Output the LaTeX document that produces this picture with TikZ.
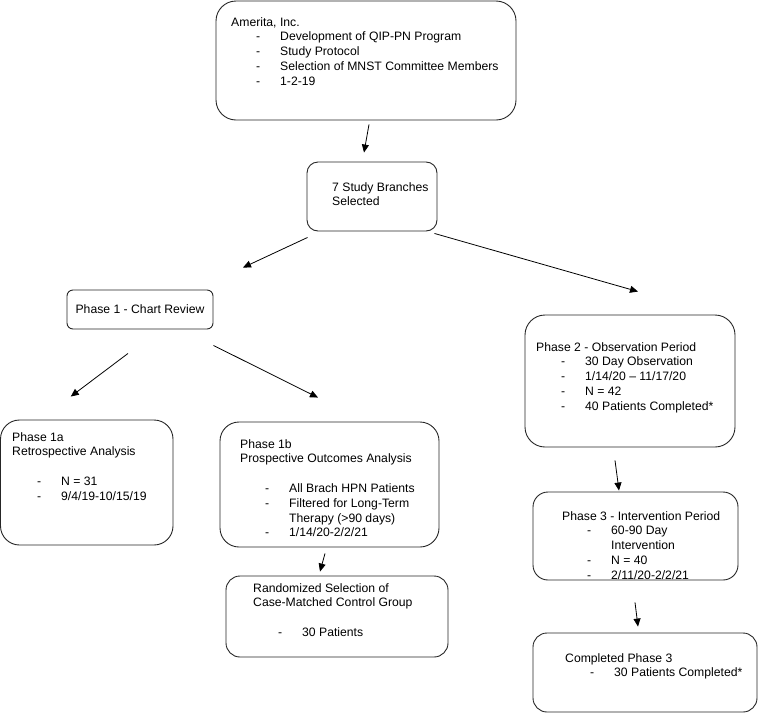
\documentclass[tikz,border=0pt]{standalone}
\usepackage{fontspec}
\setmainfont{Liberation Sans}
\usetikzlibrary{arrows.meta}
\newcommand{\itm}[1]{\hspace*{25pt}\makebox[24pt][l]{-}#1}
\newcommand{\cnt}[1]{\hspace*{49pt}#1}

\begin{document}
\begin{tikzpicture}[x=1pt, y=-1pt, >={Triangle[length=8pt, width=7pt]},
    box/.style={draw=black!85, line width=0.9pt, inner sep=0pt},
    txt/.style={anchor=north west, align=left, inner sep=0pt, font=\fontsize{12.2}{14.8}\selectfont},
    arr/.style={->, line width=0.8pt}]
    \useasboundingbox (0,0) rectangle (759,715);

    \node[box, rounded corners=20pt, minimum width=300pt, minimum height=119pt] (amerita) at (366,60.5) {};
    \node[box, rounded corners=11pt, minimum width=130pt, minimum height=69pt] (branches) at (372,196.5) {};
    \node[box, rounded corners=6pt, minimum width=146pt, minimum height=39pt, font=\fontsize{12.2}{14.8}\selectfont] (phase1) at (140,309.5) {Phase 1 - Chart Review};
    \node[box, rounded corners=19pt, minimum width=172.5pt, minimum height=125pt] (p1a) at (86.75,482.5) {};
    \node[box, rounded corners=19pt, minimum width=219pt, minimum height=125pt] (p1b) at (329.5,484.5) {};
    \node[box, rounded corners=14pt, minimum width=222pt, minimum height=81pt] (rand) at (337,616.5) {};
    \node[box, rounded corners=20pt, minimum width=210pt, minimum height=132pt] (p2) at (630,381) {};
    \node[box, rounded corners=15pt, minimum width=205pt, minimum height=88pt] (p3) at (635.5,536) {};
    \node[box, rounded corners=14pt, minimum width=224pt, minimum height=79pt] (done) at (645,672.5) {};

    \node[txt] (amerita-t) at (231,17) {Amerita, Inc.\\ \itm{Development of QIP-PN Program}\\ \itm{Study Protocol}\\ \itm{Selection of MNST Committee Members}\\ \itm{1-2-19}};
    \node[txt] (branches-t) at (332,182) {7 Study Branches\\ Selected};
    \node[txt] (p1a-t) at (12,432) {Phase 1a\\ Retrospective Analysis\\[14.8pt] \itm{N = 31}\\ \itm{9/4/19-10/15/19}};
    \node[txt] (p1b-t) at (240,439) {Phase 1b\\ Prospective Outcomes Analysis\\[14.8pt] \itm{All Brach HPN Patients}\\ \itm{Filtered for Long-Term}\\ \cnt{Therapy (>90 days)}\\ \itm{1/14/20-2/2/21}};
    \node[txt] (rand-t) at (253,583) {Randomized Selection of\\ Case-Matched Control Group\\[14.8pt] \itm{30 Patients}};
    \node[txt] (p2-t) at (536,342) {Phase 2 - Observation Period\\ \itm{30 Day Observation}\\ \itm{1/14/20 -- 11/17/20}\\ \itm{N = 42}\\ \itm{40 Patients Completed*}};
    \node[txt] (p3-t) at (562,511) {Phase 3 - Intervention Period\\ \itm{60-90 Day}\\ \cnt{Intervention}\\ \itm{N = 40}\\ \itm{2/11/20-2/2/21}};
    \node[txt] (done-t) at (565,653) {Completed Phase 3\\ \itm{30 Patients Completed*}};

    \draw[arr] ([shift={(3,4)}]amerita.south) -- ([shift={(-8,-9)}]branches.north);
    \draw[arr] ([shift={(1,6)}]branches.south west) -- ([shift={(103,-22)}]phase1.north);
    \draw[arr] ([shift={(-3,2)}]branches.south east) -- ([shift={(8,-23)}]p2.north);
    \draw[arr] ([shift={(-12,24)}]phase1.south) -- ([shift={(-16,-23)}]p1a.north);
    \draw[arr] ([shift={(0,16)}]phase1.south east) -- ([shift={(-11.5,-24)}]p1b.north);
    \draw[arr] ([shift={(-4.5,6)}]p1b.south) -- ([shift={(-17,-4)}]rand.north);
    \draw[arr] ([shift={(-15,13)}]p2.south) -- ([shift={(-16.5,-1)}]p3.north);
    \draw[arr] ([shift={(-0.5,22)}]p3.south) -- ([shift={(-7,-6)}]done.north);
\end{tikzpicture}
\end{document}
